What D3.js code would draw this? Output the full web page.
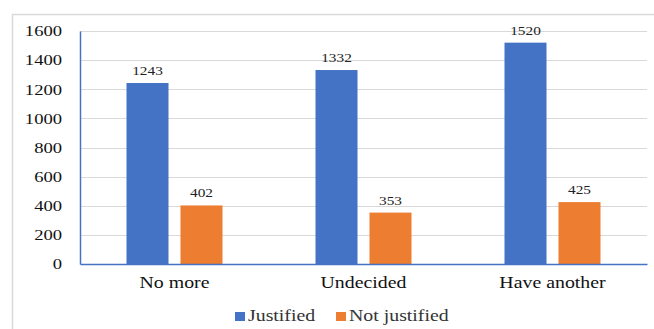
<!DOCTYPE html>
<html>
<head>
<meta charset="utf-8">
<script src="https://cdn.jsdelivr.net/npm/d3@7"></script>
<style>
  body { margin: 0; background: #fff; }
  svg { display: block; }
</style>
</head>
<body>
<div class="box"></div>
<script>
let categories = ["No more", "Undecided", "Have another"]
let seriesNames = ["Justified", "Not justified"]
let justified = [1243, 1332, 1520]
let notJustified = [402, 353, 425]
let yTicks = [0, 200, 400, 600, 800, 1000, 1200, 1400, 1600]

let colors = ["#4472C4", "#ED7D31"]
let ff = "'Liberation Serif', 'Times New Roman', serif"
let sx = 1.24   // the source picture is stretched sideways

let W = 654, H = 329
let pLeft = 80, pRight = 647, pTop = 31, pBottom = 264

let svg = d3.select('.box')
  .append("svg")
  .attr("width", W)
  .attr("height", H)

// outer chart border
svg.append("rect")
  .attr("x", 12.5).attr("y", 14.5)
  .attr("width", W + 10).attr("height", H + 10)
  .attr("fill", "none")
  .attr("stroke", "#d9d9d9")
  .attr("stroke-width", 1.5)

let y = d3.scaleLinear().domain([0, 1600]).range([pBottom, pTop])
let x0 = d3.scaleBand().domain(categories).range([pLeft, pRight]).padding(0)
let gw = 96
let x1 = d3.scaleBand().domain(seriesNames)
  .range([(x0.bandwidth() - gw) / 2, (x0.bandwidth() + gw) / 2])
  .paddingInner(0.222).paddingOuter(0)

// gridlines
svg.append("g")
  .selectAll("line")
  .data(yTicks.filter(d => d > 0))
  .join("line")
  .attr("x1", pLeft).attr("x2", pRight)
  .attr("y1", d => Math.round(y(d)) + 0.5)
  .attr("y2", d => Math.round(y(d)) + 0.5)
  .attr("stroke", "#d9d9d9")
  .attr("stroke-width", 1.2)

// y axis
let yAxis = svg.append("g")
  .attr("transform", `translate(${pLeft},0)`)
  .call(d3.axisLeft(y).tickValues(yTicks).tickFormat(d3.format("d")).tickSize(0).tickPadding(18))
yAxis.select(".domain").attr("stroke", "#4472C4").attr("stroke-width", 1.5)
yAxis.selectAll("text")
  .attr("x", 0)
  .attr("transform", `translate(-18,0) scale(${sx},1)`)
  .style("font-family", ff).style("font-size", "15px").attr("fill", "#111")

let data = categories.map((c, i) => ({cat: c, vals: [justified[i], notJustified[i]]}))

let groups = svg.append("g")
  .selectAll("g")
  .data(data)
  .join("g")
  .attr("transform", d => `translate(${x0(d.cat)},0)`)

groups.selectAll("rect")
  .data(d => d.vals.map((v, k) => ({name: seriesNames[k], v: v, k: k})))
  .join("rect")
  .attr("x", d => x1(d.name))
  .attr("y", d => y(d.v))
  .attr("width", x1.bandwidth())
  .attr("height", d => y(0) - y(d.v))
  .attr("fill", d => colors[d.k])

groups.selectAll("text.val")
  .data(d => d.vals.map((v, k) => ({name: seriesNames[k], v: v, k: k})))
  .join("text")
  .attr("class", "val")
  .attr("transform", d => `translate(${x1(d.name) + x1.bandwidth() / 2},${y(d.v) - 8}) scale(1.18,1)`)
  .attr("text-anchor", "middle")
  .style("font-family", ff).style("font-size", "13px").attr("fill", "#222")
  .text(d => d.v)

// x axis
let xAxis = svg.append("g")
  .attr("transform", `translate(0,${pBottom})`)
  .call(d3.axisBottom(x0).tickSize(0).tickPadding(13))
xAxis.select(".domain").attr("stroke", "#4472C4").attr("stroke-width", 1.5)
xAxis.selectAll("text")
  .attr("transform", `scale(${sx},1)`)
  .style("font-family", ff).style("font-size", "16px").attr("fill", "#111")

// legend
let legendX = [235, 336]
let legend = svg.append("g")
  .selectAll("g")
  .data(seriesNames)
  .join("g")
  .attr("transform", (d, i) => `translate(${legendX[i]},312)`)
legend.append("rect")
  .attr("width", 10).attr("height", 9)
  .attr("fill", (d, i) => colors[i])
legend.append("text")
  .attr("transform", `translate(13,9) scale(${sx},1)`)
  .style("font-family", ff).style("font-size", "16px").attr("fill", "#333")
  .text(d => d)
</script>
</body>
</html>
